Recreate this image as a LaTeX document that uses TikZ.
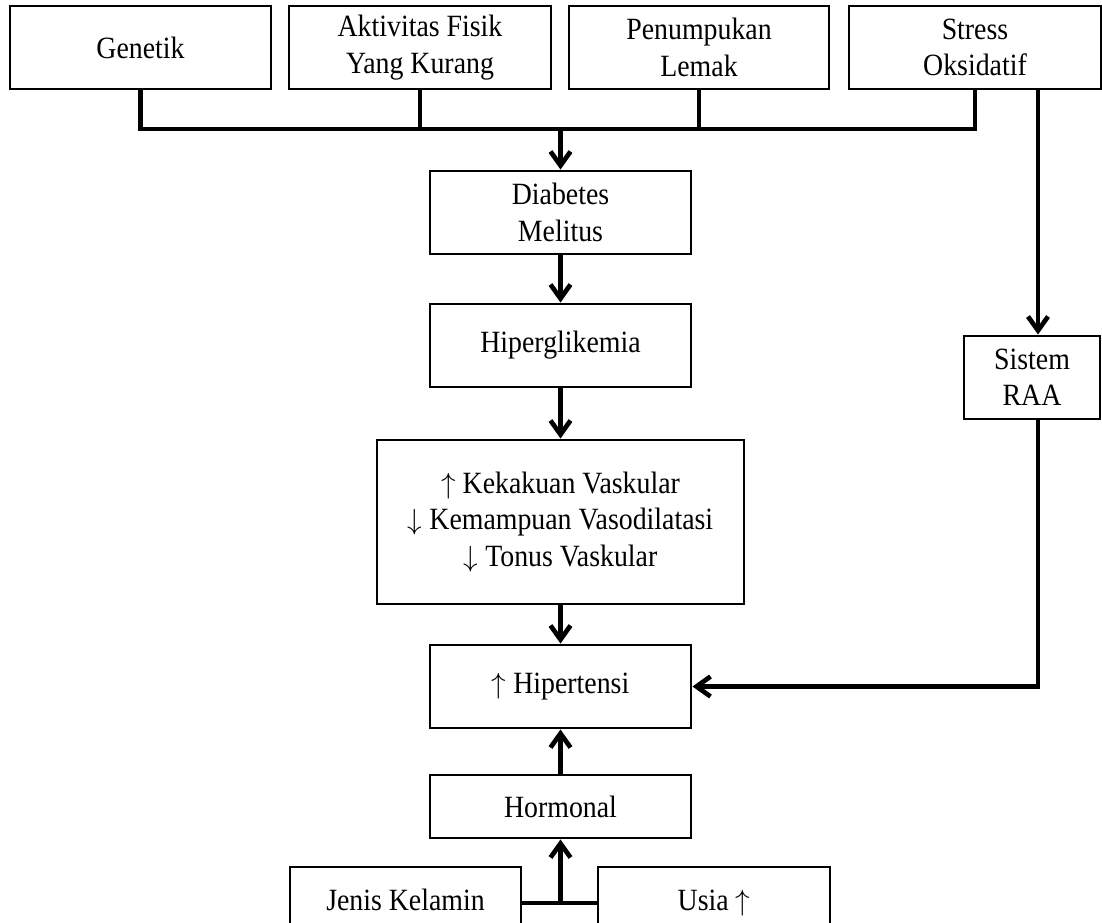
\documentclass[tikz,border=0pt]{standalone}
\usepackage{fontspec}
\setmainfont{Liberation Serif}[FakeStretch=0.9]
\usetikzlibrary{arrows.meta}
\tikzset{
  kotak/.style={draw, line width=2.5pt, align=center, inner sep=0pt, font=\fontsize{26.4}{31.1}\selectfont},
  garis/.style={line width=4pt},
  panah/.style={line width=4pt, -{Straight Barb[length=0.42cm,width=0.6cm]}}
}
\newcommand{\kotak}[6]{\node[kotak, minimum width=#4*0.03cm, minimum height=#5*0.03cm] (#1) at (#2,#3) {#6};}
\newcommand{\naik}{$\uparrow$}
\newcommand{\turun}{$\downarrow$}

\begin{document}
\begin{tikzpicture}[x=0.03cm, y=-0.03cm]
\useasboundingbox (0,0) rectangle (1102,922);
\clip (0,0) rectangle (1102,922);
\kotak{gen}{140.5}{47.5}{261}{83}{Genetik}
\kotak{akt}{420}{47.5}{262}{83}{Aktivitas Fisik\\Yang Kurang}
\kotak{lem}{699}{47.5}{260}{83}{Penumpukan\\Lemak}
\kotak{stres}{975}{47.5}{252}{83}{Stress\\Oksidatif}
\kotak{dm}{560.5}{212.5}{261}{83}{Diabetes\\Melitus}
\kotak{hgl}{560.5}{345.5}{261}{83}{Hiperglikemia}
\kotak{vask}{560.5}{522}{367}{164}{\naik{} Kekakuan Vaskular\\\turun{} Kemampuan Vasodilatasi\\\turun{} Tonus Vaskular}
\kotak{hipt}{560.5}{686.5}{261}{83}{\naik{} Hipertensi}
\kotak{horm}{560.5}{806.5}{261}{63}{Hormonal}
\kotak{jk}{405.5}{903}{231}{72}{Jenis Kelamin\vphantom{\naik}}
\kotak{usia}{714}{903}{232}{72}{Usia \naik}
\kotak{raa}{1032}{377.5}{136}{83}{Sistem\\RAA}
\coordinate (bar) at (560.5,129);
\coordinate (pisah) at (560.5,903);
\draw[garis] (gen.south) -- (gen.south |- bar) -- (stres.south |- bar) -- (stres.south);
\draw[garis] (akt.south) -- (akt.south |- bar);
\draw[garis] (lem.south) -- (lem.south |- bar);
\draw[panah] (bar) -- (dm.north);
\draw[panah] (dm.south) -- (hgl.north);
\draw[panah] (hgl.south) -- (vask.north);
\draw[panah] (vask.south) -- (hipt.north);
\draw[panah] ([xshift=0.18cm]raa.north |- stres.south) -- ([xshift=0.18cm]raa.north);
\draw[panah] ([xshift=0.18cm]raa.south) -- ([xshift=0.18cm]raa.south |- hipt.east) -- (hipt.east);
\draw[panah] (horm.north) -- (hipt.south);
\draw[garis] (jk.east) -- (usia.west);
\draw[panah] (pisah) -- (horm.south);
\end{tikzpicture}
\end{document}
